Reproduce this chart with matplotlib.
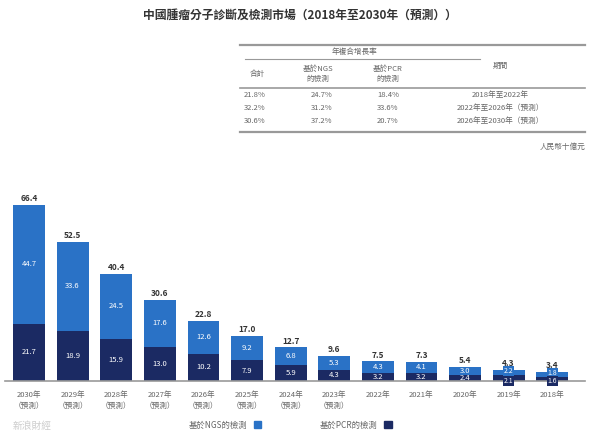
import numpy as np
import matplotlib.pyplot as plt
from matplotlib.patches import Patch

plt.rcParams['font.family'] = ['Noto Sans CJK TC', 'DejaVu Sans']

# market size, RMB bn (chronological)
years = ['2018年', '2019年', '2020年', '2021年', '2022年', '2023年', '2024年',
         '2025年', '2026年', '2027年', '2028年', '2029年', '2030年']
forecast = [False] * 5 + [True] * 8
pcr = [1.6, 2.1, 2.4, 3.2, 3.2, 4.3, 5.9, 7.9, 10.2, 13.0, 15.9, 18.9, 21.7]
ngs = [1.8, 2.2, 3.0, 4.1, 4.3, 5.3, 6.8, 9.2, 12.6, 17.6, 24.5, 33.6, 44.7]
totals = [3.4, 4.3, 5.4, 7.3, 7.5, 9.6, 12.7, 17.0, 22.8, 30.6, 40.4, 52.5, 66.4]

# CAGR table
periods = ['2018年至2022年', '2022年至2026年（預測）', '2026年至2030年（預測）']
cagr_pcr = ['18.4%', '33.6%', '20.7%']
cagr_ngs = ['24.7%', '31.2%', '37.2%']
cagr_total = ['21.8%', '32.2%', '30.6%']

navy = '#1b2a63'
blue = '#2a72c6'
grey = '#666666'

W, H = 600, 440
fig = plt.figure(figsize=(6, 4.4), dpi=100)


def fx(x):
    return x / W


def fy(y):
    return 1 - y / H


# chart area (picture is laid out mirrored: 2030 on the left)
ax = fig.add_axes([fx(5), fy(381), fx(580), (381 - 195) / H])
x = np.arange(len(years))
ax.bar(x, pcr, width=0.73, color=navy)
ax.bar(x, ngs, width=0.73, bottom=pcr, color=blue)
ax.set_xlim(12.55, -0.75)
ax.set_ylim(0, 70.2)

for i in range(len(years)):
    ax.text(x[i], totals[i] + 0.6, f'{totals[i]:.1f}', ha='center', va='bottom',
            fontsize=6, color='#333333', fontweight='bold')
    if pcr[i] < 2.2:
        # small bars: labels sit in boxes that straddle the segment edges
        ax.text(x[i], pcr[i] + ngs[i] * 0.75, f'{ngs[i]:.1f}', ha='center', va='center',
                fontsize=5, color='white', zorder=3,
                bbox=dict(facecolor=blue, edgecolor='none', pad=0.6))
        ax.text(x[i], 0, f'{pcr[i]:.1f}', ha='center', va='center', fontsize=5,
                color='white', zorder=3,
                bbox=dict(facecolor=navy, edgecolor='none', pad=0.6))
    else:
        ax.text(x[i], pcr[i] + ngs[i] / 2, f'{ngs[i]:.1f}', ha='center', va='center',
                fontsize=5.5, color='white')
        ax.text(x[i], pcr[i] / 2, f'{pcr[i]:.1f}', ha='center', va='center',
                fontsize=5.5, color='white')

labels = [y + '\n（預測）' if f else y for y, f in zip(years, forecast)]
ax.set_xticks(x)
ax.set_xticklabels(labels, fontsize=5.5, color=grey, va='top', linespacing=1.5)
ax.tick_params(axis='x', length=0, pad=7)
ax.set_yticks([])
for s in ['top', 'left', 'right']:
    ax.spines[s].set_visible(False)
ax.spines['bottom'].set_color('#999999')
ax.spines['bottom'].set_linewidth(1.2)

handles = [Patch(color=blue, label='基於NGS的檢測'), Patch(color=navy, label='基於PCR的檢測')]
fig.legend(handles=handles, loc='center', bbox_to_anchor=(fx(290), fy(425)), ncol=2,
           frameon=False, markerfirst=False, fontsize=6, handlelength=0.9,
           handleheight=0.9, columnspacing=7, labelcolor=grey)

fig.text(fx(32), fy(426), '新浪財經', fontsize=7, color='#cccccc', ha='center', va='center')

# title
fig.text(fx(300), fy(15), '中國腫瘤分子診斷及檢測市場（2018年至2030年（預測））',
         ha='center', va='center', fontsize=8.5, fontweight='bold', color='#333333')

# table
fig.add_artist(plt.Line2D([fx(240), fx(585)], [fy(45), fy(45)], color='#999999', lw=1.6))
fig.add_artist(plt.Line2D([fx(245), fx(480)], [fy(59), fy(59)], color='#999999', lw=0.8))
fig.add_artist(plt.Line2D([fx(240), fx(585)], [fy(88), fy(88)], color='#999999', lw=1.2))
fig.add_artist(plt.Line2D([fx(240), fx(585)], [fy(132), fy(132)], color='#999999', lw=1.6))

tk = dict(fontsize=5.5, color=grey, ha='center', va='center')
fig.text(fx(355), fy(52), '年複合增長率', **tk)
fig.text(fx(257), fy(74), '合計', **tk)
fig.text(fx(318), fy(74), '基於NGS\n的檢測', linespacing=1.3, **tk)
fig.text(fx(388), fy(74), '基於PCR\n的檢測', linespacing=1.3, **tk)
fig.text(fx(500), fy(66), '期間', **tk)

for r in range(len(periods)):
    yy = fy(95 + r * 13)
    fig.text(fx(500), yy, periods[r], **tk)
    fig.text(fx(388), yy, cagr_pcr[r], **tk)
    fig.text(fx(322), yy, cagr_ngs[r], **tk)
    fig.text(fx(255), yy, cagr_total[r], **tk)

fig.text(fx(585), fy(147), '人民幣十億元', fontsize=5.5, color=grey, ha='right', va='center')

fig.savefig('out.png', dpi=100)
